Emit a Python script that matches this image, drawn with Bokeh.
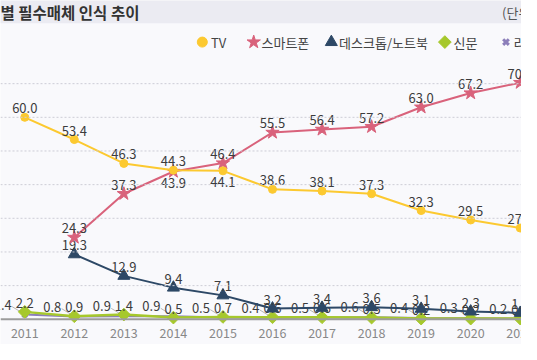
import math
from bokeh.plotting import figure
from bokeh.models import Range1d, Span
from bokeh.core.properties import value
from bokeh.embed import file_html
from bokeh.resources import INLINE

# ---------------- data ----------------
years = [2011, 2012, 2013, 2014, 2015, 2016, 2017, 2018, 2019, 2020, 2021]
year_labels = [str(y) for y in years]
tv = [60.0, 53.4, 46.3, 44.3, 44.1, 38.6, 38.1, 37.3, 32.3, 29.5, 27.1]
smartphone = [math.nan, 24.3, 37.3, 43.9, 46.4, 55.5, 56.4, 57.2, 63.0, 67.2, 70.3]
desktop = [math.nan, 19.3, 12.9, 9.4, 7.1, 3.2, 3.4, 3.6, 3.1, 2.3, 1.9]
newspaper = [2.2, 0.9, 1.4, 0.5, 0.7, 0.6, 0.6, 0.5, 0.2, 0.2, 0.2]
radio = [1.4, 0.8, 0.9, 0.9, 0.5, 0.4, 0.5, 0.6, 0.4, 0.3, 0.2]
series_names = ["TV", "스마트폰", "데스크톱/노트북", "신문", "라디오"]
grid_values = [10, 20, 30, 40, 50, 60, 70]
title_text = "별 필수매체 인식 추이"
unit_text = "(단위: %)"

# ---------------- style ----------------
FONT = "Noto Sans CJK KR"
BG = "#f9f9fc"
BAR = "#ebebf2"
C_TV = "#fcc930"
C_SP = "#d9627b"
C_DT = "#2d4866"
C_NP = "#a6c82c"
C_RD = "#8c7fba"
LBL = "#3c3c3c"

W, H = 521, 344
REF_W = 537
KY = 0.99
X0_REF, DX_REF = 25.0, 51.07
Y0_REF, DY_REF = 322.0, 3.4


def rx(px):
    return years[0] + (px - X0_REF) / DX_REF


def ry(py):
    return (Y0_REF - py) / DY_REF


p = figure(width=W, height=H,
           x_range=Range1d(rx(0), rx(REF_W)), y_range=Range1d(ry(H / KY), ry(0)),
           x_axis_location=None, y_axis_location=None,
           output_backend="svg", toolbar_location=None, min_border=0)
p.grid.visible = False
p.outline_line_color = None
p.background_fill_color = BG
p.border_fill_color = BG

# title bar
p.quad(left=rx(-5), right=rx(REF_W + 5), bottom=ry(23), top=ry(-5),
       fill_color=BAR, line_color=None)
p.text(x=[rx(0)], y=[ry(12)], text=[title_text], text_align="left",
       text_baseline="middle", text_font=value(FONT), text_font_style="bold",
       text_font_size="15.5px", text_color="#333333")
p.text(x=[rx(517)], y=[ry(12)], text=[unit_text], text_align="left",
       text_baseline="middle", text_font=value(FONT),
       text_font_size="13px", text_color="#555555")

# grid lines
for g in grid_values:
    p.add_layout(Span(location=g, dimension="width", line_color="#cdcdd6",
                      line_dash="2 2", line_width=1))
p.add_layout(Span(location=0, dimension="width", line_color="#9c9c9c", line_width=2))

# year labels
p.text(x=years, y=[ry(336)] * len(years), text=year_labels, text_align="center",
       text_baseline="middle", text_font=value(FONT), text_font_size="12.5px",
       text_color="#888888")


def pts(vals):
    xs = [x for x, v in zip(years, vals) if not math.isnan(v)]
    vs = [v for v in vals if not math.isnan(v)]
    return xs, vs


def labels(xs, vs, below=(), **kw):
    ax = [x for x, v in zip(xs, vs) if x not in below]
    av = [v for x, v in zip(xs, vs) if x not in below]
    bx = [x for x, v in zip(xs, vs) if x in below]
    bv = [v for x, v in zip(xs, vs) if x in below]
    common = dict(text_font=value(FONT), text_font_size="13px", text_color=LBL,
                  text_align="center")
    common.update(kw)
    if ax:
        p.text(x=ax, y=av, text=[f"{v:.1f}" for v in av], text_baseline="bottom",
               y_offset=-4, **common)
    if bx:
        p.text(x=bx, y=bv, text=[f"{v:.1f}" for v in bv], text_baseline="top",
               y_offset=6, **common)


# radio
rxs, rvs = pts(radio)
p.line(rxs, rvs, line_color=C_RD, line_width=2)
p.scatter(rxs, rvs, marker="x", size=7, line_color=C_RD, line_width=2.5)
p.segment(x0=[x - 13 / DX_REF for x in rxs], y0=[v + 8 / DY_REF for v in rvs],
          x1=[x - 3 / DX_REF for x in rxs], y1=[v + 2 / DY_REF for v in rvs],
          line_color="#b5b5b5", line_width=1)
p.text(x=rxs, y=rvs, text=[f"{v:.1f}" for v in rvs], text_align="right",
       text_baseline="middle", x_offset=-13, y_offset=-10,
       text_font=value(FONT), text_font_size="13px", text_color=LBL)

# newspaper
nxs, nvs = pts(newspaper)
p.line(nxs, nvs, line_color=C_NP, line_width=2.5)
p.scatter(nxs, nvs, marker="square", angle=math.pi / 4, size=9,
          fill_color=C_NP, line_color=C_NP)
labels(nxs, nvs)

# desktop
dxs, dvs = pts(desktop)
p.line(dxs, dvs, line_color=C_DT, line_width=2)
p.scatter(dxs, dvs, marker="triangle", size=12, fill_color=C_DT, line_color=C_DT)
labels(dxs, dvs)

# smartphone
sxs, svs = pts(smartphone)
p.line(sxs, svs, line_color=C_SP, line_width=2)
p.scatter(sxs, svs, marker="star", size=14, fill_color=C_SP, line_color=C_SP)
labels(sxs, svs, below=(2014,))

# TV
txs, tvs = pts(tv)
p.line(txs, tvs, line_color=C_TV, line_width=2)
p.scatter(txs, tvs, marker="circle", size=8, fill_color=C_TV, line_color=C_TV)
labels(txs, tvs, below=(2015,))

# legend (manual row)
leg_y = ry(42)
leg_markers = [("circle", 10, C_TV, 0, 208, 217),
               ("star", 14, C_SP, 0, 261, 269),
               ("triangle", 12, C_DT, 0, 341, 349),
               ("square", 9, C_NP, math.pi / 4, 458, 467),
               ("x", 8, C_RD, 0, 521, 529)]
for (mk, sz, col, ang, mx, tx), name in zip(leg_markers, series_names):
    if mk == "x":
        p.scatter([rx(mx)], [leg_y], marker=mk, size=sz, line_color=col, line_width=3)
    else:
        p.scatter([rx(mx)], [leg_y], marker=mk, size=sz, angle=ang,
                  fill_color=col, line_color=col)
    p.text(x=[rx(tx)], y=[leg_y], text=[name], text_align="left",
           text_baseline="middle", text_font=value(FONT), text_font_size="13px",
           text_color="#444444")

open("out.html", "w").write(file_html(p, INLINE))
